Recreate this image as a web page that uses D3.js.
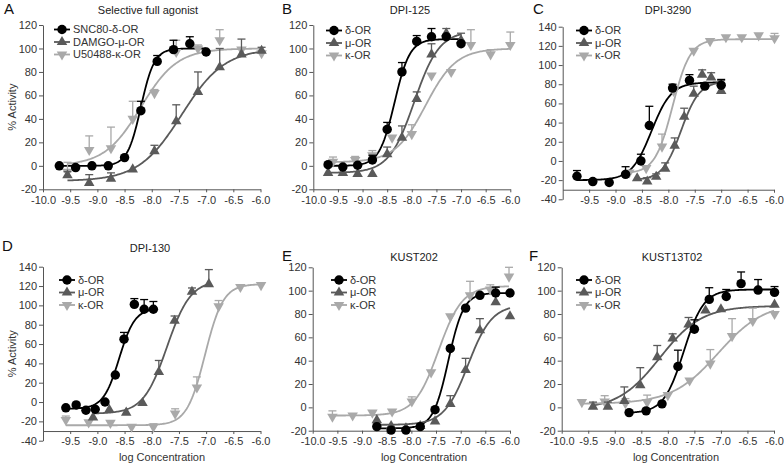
<!DOCTYPE html>
<html>
<head>
<meta charset="utf-8">
<script src="https://cdn.jsdelivr.net/npm/d3@7"></script>
<style>
  body { margin: 0; background: #fff; }
  svg { font-family: "Liberation Sans", Arial, sans-serif; }
</style>
</head>
<body>
<div id="chart"></div>
<script>
const receptors = ["δ-OR", "μ-OR", "κ-OR"];
const legendA = ["SNC80-δ-OR", "DAMGO-μ-OR", "U50488-κ-OR"];
const panelLetters = ["A", "B", "C", "D", "E", "F"];
const panelTitles = ["Selective full agonist", "DPI-125", "DPI-3290", "DPI-130", "KUST202", "KUST13T02"];
const xTicksFull = [-10, -9.5, -9, -8.5, -8, -7.5, -7, -6.5, -6];
const xTicksShort = [-9.5, -9, -8.5, -8, -7.5, -7, -6.5, -6];
const yTicksLow = [-20, 0, 20, 40, 60, 80, 100, 120];
const yTicksHigh = [-40, -20, 0, 20, 40, 60, 80, 100, 120, 140];

// [log concentration, % activity, SEM]
const aDelta = [[-9.7,0,0],[-9.4,-1.5,0],[-9.1,0,0],[-8.8,0,0],[-8.5,7,0],[-8.2,47,8],[-7.9,89,5],[-7.6,99,8],[-7.3,104,6],[-7.0,97,0]];
const aMu = [[-9.55,-8,3],[-9.15,-14.5,7],[-8.75,-11,5],[-8.35,-3,0],[-7.95,12.5,5],[-7.55,38,14],[-7.15,63,17],[-6.75,84,16],[-6.35,95,13],[-5.98,98,3]];
const aKappa = [[-9.55,-5,8],[-9.15,13.5,12],[-8.75,15,18],[-8.35,40,15],[-7.95,62,3],[-7.55,97,10],[-7.15,100,3],[-6.75,107,9],[-6.35,99,0],[-5.98,96,0]];

const bDelta = [[-9.7,1,0],[-9.4,-1,0],[-9.1,0.5,0],[-8.8,5,4],[-8.5,31,6],[-8.2,80,8],[-7.9,106,5],[-7.6,110,7],[-7.3,110,0],[-7.0,104,0]];
const bMu = [[-9.7,-6,0],[-9.4,-6,0],[-9.1,-7,0],[-8.8,-7,0],[-8.5,10,6],[-8.2,24,10],[-7.9,57,6],[-7.6,95,9],[-7.3,113,4],[-7.0,107,6]];
const bKappa = [[-9.6,3.5,4],[-9.15,5,3],[-8.8,9,4],[-8.4,24,0],[-8.0,27,8],[-7.6,77,0],[-7.2,80,0],[-6.8,103,13],[-6.4,95,4],[-6.0,103,11]];

const cDelta = [[-9.73,-16,6],[-9.43,-21.5,0],[-9.12,-22.5,0],[-8.81,-14,8],[-8.52,0,7],[-8.36,37,20],[-7.92,76,4],[-7.6,84,6],[-7.31,78,0],[-7.0,79,6]];
const cMu = [[-8.59,-18,0],[-8.4,-21.5,4],[-8.23,-16.5,3],[-8.06,-8,6],[-7.88,16,8],[-7.7,46,9],[-7.52,70,8],[-7.36,90,5],[-7.19,87,5],[-7.0,73,11]];
const cKappa = [[-8.74,-12,0],[-8.42,-7.5,0],[-8.12,15,13],[-7.9,73,0],[-7.52,115,0],[-7.21,125,0],[-6.91,129,0],[-6.61,129,0],[-6.29,131,0],[-5.99,128,5]];

const dDelta = [[-9.58,-6,0],[-9.39,-3,0],[-9.21,-8.5,0],[-9.04,-7.5,0],[-8.86,0,0],[-8.67,28,0],[-8.51,65,7],[-8.32,101,6],[-8.14,96,10],[-7.97,96,8]];
const dMu = [[-9.08,-16,0],[-8.78,-8,0],[-8.47,-11,0],[-8.17,-1,0],[-7.87,31,12],[-7.58,84,5],[-7.26,114,4],[-6.95,122,15]];
const dKappa = [[-9.58,-18.5,4],[-9.16,-21,0],[-8.76,-21.5,0],[-8.37,-25.5,0],[-7.97,-25.5,3],[-7.57,-12,5],[-7.17,15,11],[-6.77,99,6],[-6.37,119,0],[-5.99,121,0]];

const eDelta = [[-8.7,-16.5,0],[-8.41,-19.5,0],[-8.11,-19.5,0],[-7.82,-16.5,0],[-7.52,-2,0],[-7.21,50.5,0],[-6.9,85,0],[-6.61,96,0],[-6.29,98,5],[-6.0,98,0]];
const eMu = [[-8.7,-11,0],[-8.41,-16,0],[-8.11,-18,0],[-7.82,-16,0],[-7.52,-12,0],[-7.21,3,7],[-6.9,32,10],[-6.61,66,10],[-6.29,90,0],[-6.0,78,0]];
const eKappa = [[-9.6,-8,5],[-9.19,-7,0],[-8.79,-4.5,0],[-8.39,-3.5,0],[-7.99,5,4],[-7.6,30,0],[-7.21,78,0],[-6.81,96,12],[-6.4,101,4],[-6.02,112,8]];

const fDelta = [[-8.73,-4.5,0],[-8.41,-3,0],[-8.11,3,0],[-7.81,35,14],[-7.5,67,8],[-7.22,92.5,10],[-6.9,95,6],[-6.62,106,10],[-6.3,100.5,9],[-5.99,98.5,5]];
const fMu = [[-9.41,0.5,4],[-9.13,0.5,4],[-8.82,5.5,12],[-8.52,19,15],[-8.2,43,10],[-7.91,59,4],[-7.61,71,6],[-7.29,83,0],[-7.0,84,0],[-5.99,88,0]];
const fKappa = [[-9.62,4.5,0],[-9.19,5,5],[-8.8,3.5,4],[-8.39,4.5,6],[-8.0,10.5,0],[-7.59,23,0],[-7.2,37.5,12],[-6.79,61,15],[-6.4,74,11],[-5.99,80,0]];

// sigmoid fits: [bottom, top, logEC50, hill slope]
const aFit = [[0,100,-8.2,3.5],[-13,100,-7.45,1.1],[0,100,-8.2,1.3]];
const bFit = [[0,108,-8.35,2.8],[-6,115,-7.95,1.7],[3,100,-7.72,1.4]];
const cFit = [[-20,82,-8.32,2.3],[-20,83,-7.76,2.5],[-13,127,-7.92,2.6]];
const dFit = [[-7,97,-8.6,3],[-12,126,-7.72,2],[-24,122,-7.02,2.6]];
const eFit = [[-18,98,-7.25,2.8],[-15,88,-6.85,1.8],[-7,104,-7.45,1.8]];
const fFit = [[-5,101,-7.7,2.3],[-2,87,-8.15,1.1],[3,90,-7.05,1.0]];

const colors = ["#000000", "#5a5a5a", "#a9a9a9"];
const textColor = "#333";

const panels = [
  { series: [aDelta, aMu, aKappa], fits: aFit, legend: legendA, x0: 43, x1: 260.5, yTop: 25, yBot: 189.3, yDom: [-20, 120], yTicks: yTicksLow, xTicks: xTicksFull, xAxisAt: -20,
    letter: [4, 14], title: [148, 14], leg: [62, 29.5], yLabel: 12, xLabel: null },
  { series: [bDelta, bMu, bKappa], fits: bFit, legend: receptors, x0: 313.3, x1: 510.3, yTop: 25, yBot: 189.3, yDom: [-20, 120], yTicks: yTicksLow, xTicks: xTicksFull, xAxisAt: -20,
    letter: [282, 14], title: [410, 14], leg: [334, 30.5], yLabel: null, xLabel: null },
  { series: [cDelta, cMu, cKappa], fits: cFit, legend: receptors, x0: 562.7, x1: 774, yTop: 26.7, yBot: 199.3, yDom: [-40, 140], yTicks: yTicksHigh, xTicks: xTicksShort, xAxisAt: -30,
    letter: [533, 14], title: [668, 14], leg: [584, 30.5], yLabel: null, xLabel: null },
  { series: [dDelta, dMu, dKappa], fits: dFit, legend: receptors, x0: 43, x1: 260.5, yTop: 266.7, yBot: 440.7, yDom: [-40, 140], yTicks: yTicksHigh, xTicks: xTicksShort, xAxisAt: -30,
    letter: [2, 251], title: [150, 252], leg: [67, 280], yLabel: 12, xLabel: [162, 461] },
  { series: [eDelta, eMu, eKappa], fits: eFit, legend: receptors, x0: 312.7, x1: 510, yTop: 267.3, yBot: 430.7, yDom: [-20, 120], yTicks: yTicksLow, xTicks: xTicksFull, xAxisAt: -20,
    letter: [282, 261], title: [414, 261], leg: [339, 280], yLabel: null, xLabel: [424, 461] },
  { series: [fDelta, fMu, fKappa], fits: fFit, legend: receptors, x0: 561.7, x1: 774, yTop: 267.3, yBot: 430.7, yDom: [-20, 120], yTicks: yTicksLow, xTicks: xTicksFull, xAxisAt: -20,
    letter: [529, 261], title: [672, 261], leg: [584, 280], yLabel: null, xLabel: [676, 461] }
];

const svg = d3.select("#chart").append("svg")
  .attr("width", 784)
  .attr("height", 464);

const symbolFor = i => i === 0 ? d3.symbol().type(d3.symbolCircle).size(70)
  : d3.symbol().type(d3.symbolTriangle).size(48);

function drawMarker(g, i, x, y) {
  g.append("path")
    .attr("d", symbolFor(i)())
    .attr("transform", `translate(${x},${y})` + (i === 2 ? " rotate(180)" : ""))
    .attr("fill", colors[i]);
}

const hill = (p, x) => p[0] + (p[1] - p[0]) / (1 + Math.pow(10, (p[2] - x) * p[3]));

panels.forEach((p, pi) => {
  const g = svg.append("g");
  const xScale = d3.scaleLinear().domain([-10, -6]).range([p.x0, p.x1]);
  const yScale = d3.scaleLinear().domain(p.yDom).range([p.yBot, p.yTop]);

  // y axis
  const yAxis = g.append("g")
    .attr("transform", `translate(${p.x0},0)`)
    .call(d3.axisLeft(yScale).tickValues(p.yTicks).tickSize(4).tickSizeOuter(0).tickPadding(2).tickFormat(d => String(d)));

  // x axis
  const xAxis = g.append("g")
    .attr("transform", `translate(0,${yScale(p.xAxisAt)})`)
    .call(d3.axisBottom(xScale).tickValues(p.xTicks).tickSize(3).tickSizeOuter(0).tickPadding(3.5).tickFormat(d => d.toFixed(1)));

  [yAxis, xAxis].forEach(a => {
    a.select(".domain").attr("stroke", "#555");
    a.selectAll(".tick line").attr("stroke", "#555");
    a.selectAll(".tick text").attr("fill", textColor).style("font-size", "11px");
  });

  // fitted curves
  p.series.forEach((s, i) => {
    const xs = d3.extent(s, d => d[0]);
    const pts = d3.range(xs[0], xs[1] + 0.001, 0.02).map(x => [x, hill(p.fits[i], x)]);
    g.append("path")
      .datum(pts)
      .attr("fill", "none")
      .attr("stroke", colors[i])
      .attr("stroke-width", 1.8)
      .attr("d", d3.line().x(d => xScale(d[0])).y(d => yScale(d[1])));
  });

  // error bars + points (light series underneath)
  [2, 1, 0].forEach(i => {
    const s = p.series[i];
    s.filter(d => d[2] > 0).forEach(d => {
      const x = xScale(d[0]);
      const yTop = yScale(d[1] + d[2]);
      g.append("line").attr("x1", x).attr("x2", x)
        .attr("y1", yScale(d[1])).attr("y2", yTop)
        .attr("stroke", colors[i]).attr("stroke-width", 1.3);
      g.append("line").attr("x1", x - 4).attr("x2", x + 4)
        .attr("y1", yTop).attr("y2", yTop)
        .attr("stroke", colors[i]).attr("stroke-width", 1.3);
    });
    s.forEach(d => drawMarker(g, i, xScale(d[0]), yScale(d[1])));
  });

  // legend
  p.legend.forEach((name, i) => {
    const ly = p.leg[1] + i * 12.5;
    g.append("line").attr("x1", p.leg[0] - 8).attr("x2", p.leg[0] + 8)
      .attr("y1", ly).attr("y2", ly)
      .attr("stroke", colors[i]).attr("stroke-width", 1.8);
    drawMarker(g, i, p.leg[0], ly);
    g.append("text").attr("x", p.leg[0] + 11).attr("y", ly).attr("dy", "0.35em")
      .attr("fill", textColor).style("font-size", "11px").text(name);
  });

  // titles
  g.append("text").attr("x", p.letter[0]).attr("y", p.letter[1])
    .attr("fill", "#111").style("font-size", "15px").text(panelLetters[pi]);
  g.append("text").attr("x", p.title[0]).attr("y", p.title[1])
    .attr("text-anchor", "middle").attr("fill", "#222").style("font-size", "11px").text(panelTitles[pi]);

  if (p.yLabel !== null) {
    const cy = (p.yTop + p.yBot) / 2;
    g.append("text")
      .attr("transform", `translate(${p.yLabel + 4},${cy}) rotate(-90)`)
      .attr("text-anchor", "middle").attr("fill", textColor).style("font-size", "11px")
      .text("% Activity");
  }
  if (p.xLabel !== null) {
    g.append("text").attr("x", p.xLabel[0]).attr("y", p.xLabel[1])
      .attr("text-anchor", "middle").attr("fill", textColor).style("font-size", "11px")
      .text("log Concentration");
  }
});
</script>
</body>
</html>
